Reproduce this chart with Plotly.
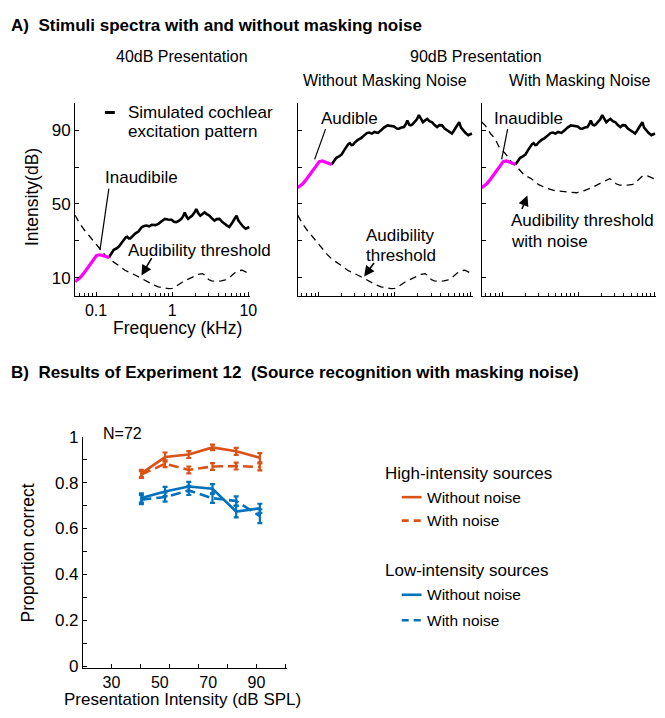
import plotly.graph_objects as go

W, H = 665, 718

# ---------------- Panel A data (frequency in kHz, level in dB) ----------------
# low-frequency portion of the excitation pattern (highlighted)
low_f = [0.053, 0.062, 0.070, 0.078, 0.086, 0.094, 0.102, 0.112, 0.125, 0.138, 0.148]
low_40 = [7.8, 10.0, 12.7, 15.3, 18.0, 20.3, 22.1, 22.4, 21.9, 21.2, 21.0]
low_90 = [58.8, 61.0, 63.7, 66.3, 69.0, 71.3, 73.0, 73.4, 72.8, 72.0, 71.5]

# rest of the simulated cochlear excitation pattern
exc_f = [0.148, 0.160, 0.171, 0.185, 0.20, 0.215, 0.231, 0.245, 0.257, 0.27,
         0.282, 0.30, 0.327, 0.36, 0.40, 0.43, 0.46, 0.50, 0.54, 0.60,
         0.66, 0.72, 0.80, 0.88, 0.98, 1.06, 1.13, 1.22, 1.32, 1.40,
         1.46, 1.55, 1.62, 1.70, 1.82, 1.95, 2.07, 2.2, 2.34, 2.5,
         2.66, 2.85, 3.09, 3.3, 3.59, 3.85, 4.17, 4.5, 4.84, 5.2,
         5.62, 5.9, 6.2, 6.6, 7.0, 7.4, 7.9, 8.5, 9.2, 9.9, 10.3]
exc_40 = [21.0, 23.2, 25.1, 25.8, 26.9, 28.7, 30.4, 31.8, 32.2, 31.3,
          31.3, 32.6, 33.9, 35.0, 37.5, 38.0, 38.3, 37.9, 38.7, 38.5,
          39.2, 40.5, 41.9, 41.6, 41.4, 40.3, 40.1, 40.8, 41.9, 43.5,
          45.4, 43.0, 41.9, 42.6, 43.6, 45.2, 47.2, 45.0, 43.6, 44.6,
          45.4, 44.5, 43.6, 42.3, 41.0, 41.8, 41.9, 40.4, 39.2, 38.4,
          37.5, 38.6, 40.1, 42.0, 43.6, 41.0, 39.2, 37.8, 36.6, 37.2, 37.5]
exc_90 = [71.5, 73.5, 75.1, 75.8, 76.8, 79.0, 81.2, 82.5, 83.0, 82.0,
          82.1, 83.5, 84.8, 85.8, 87.4, 88.5, 88.8, 88.2, 89.1, 88.6,
          90.0, 91.5, 92.7, 92.3, 92.1, 91.0, 90.9, 91.5, 91.8, 93.5,
          95.3, 93.0, 92.7, 93.2, 94.4, 96.0, 98.3, 96.0, 94.4, 95.5,
          96.2, 95.0, 94.4, 93.0, 91.8, 92.8, 92.7, 91.0, 90.0, 89.5,
          88.3, 89.5, 90.9, 92.5, 94.4, 91.5, 90.0, 88.5, 87.4, 88.0, 88.3]

# audibility threshold in quiet
thr_f = [0.053, 0.06, 0.07, 0.08, 0.094, 0.11, 0.13, 0.15, 0.171, 0.2,
         0.24, 0.29, 0.34, 0.4, 0.48, 0.57, 0.66, 0.78, 0.9, 1.0,
         1.15, 1.35, 1.6, 1.9, 2.2, 2.5, 2.75, 3.0, 3.3, 3.8,
         4.4, 5.0, 5.8, 6.6, 7.5, 8.3, 9.2, 10.3]
thr_q = [44.0, 40.0, 36.0, 33.0, 30.0, 26.0, 22.5, 20.0, 18.5, 16.5,
         14.0, 12.5, 11.0, 9.5, 7.5, 6.0, 5.0, 4.3, 4.0, 4.2,
         5.5, 7.5, 9.0, 10.5, 11.8, 12.2, 11.0, 9.0, 8.2, 8.0,
         8.2, 8.8, 10.5, 12.5, 13.8, 14.0, 13.0, 12.2]

# audibility threshold with masking noise
thn_f = [0.053, 0.059, 0.07, 0.079, 0.09, 0.107, 0.13, 0.151, 0.19, 0.24,
         0.3, 0.39, 0.5, 0.65, 0.8, 0.95, 1.2, 1.58, 2.0, 2.6,
         2.9, 3.16, 3.5, 3.9, 4.5, 5.25, 6.0, 7.1, 8.2, 10.0, 10.8]
thn_q = [94.5, 92.7, 88.0, 85.7, 81.0, 77.7, 73.0, 70.7, 66.0, 63.7,
         60.5, 58.4, 57.2, 56.6, 56.2, 56.1, 57.3, 59.3, 61.5, 63.7,
         62.5, 61.0, 60.3, 60.1, 60.2, 60.7, 62.5, 65.4, 65.2, 63.7, 63.5]

freq_ticks = [0.1, 1, 10]
freq_labels = ["0.1", "1", "10"]
freq_minor = [0.06, 0.07, 0.08, 0.09, 0.2, 0.3, 0.4, 0.5, 0.6, 0.7, 0.8, 0.9,
              2, 3, 4, 5, 6, 7, 8, 9]
db_ticks = [10, 50, 90]
db_minor = [30, 70]

# ---------------- Panel B data ----------------
levels = [42.4, 52.2, 62.0, 71.8, 81.6, 91.4]
hi_quiet = [0.840, 0.911, 0.922, 0.953, 0.936, 0.908]
hi_quiet_err = [0.015, 0.020, 0.015, 0.012, 0.015, 0.020]
hi_noise = [0.835, 0.882, 0.855, 0.870, 0.872, 0.868]
hi_noise_err = [0.015, 0.015, 0.015, 0.015, 0.015, 0.015]
lo_quiet = [0.733, 0.761, 0.783, 0.773, 0.674, 0.688]
lo_quiet_err = [0.020, 0.020, 0.020, 0.020, 0.025, 0.020]
lo_noise = [0.726, 0.737, 0.766, 0.732, 0.720, 0.654]
lo_noise_err = [0.020, 0.020, 0.020, 0.020, 0.020, 0.030]

spl_ticks = [30, 50, 70, 90]
pc_ticks = [0, 0.2, 0.4, 0.6, 0.8, 1]
pc_labels = ["0", "0.2", "0.4", "0.6", "0.8", "1"]

ORANGE = "#D95319"
BLUE = "#0072BD"
MAGENTA = "#FF00FF"
FONT = "Liberation Sans, Arial, sans-serif"


def px(x):
    return x / W


def py(y):
    return 1 - y / H


fig = go.Figure()

# ---- Panel A traces ----
panels = [
    ("x", "y", thr_f, thr_q, exc_40, low_40),
    ("x2", "y2", thr_f, thr_q, exc_90, low_90),
    ("x3", "y3", thn_f, thn_q, exc_90, low_90),
]
for xa, ya, tf, tq, ex, lo in panels:
    fig.add_trace(go.Scatter(x=tf, y=tq, xaxis=xa, yaxis=ya, mode="lines",
                             line=dict(color="black", width=1.3, dash="7px,5px"),
                             showlegend=False, hoverinfo="skip"))
    fig.add_trace(go.Scatter(x=exc_f, y=ex, xaxis=xa, yaxis=ya, mode="lines",
                             line=dict(color="black", width=2.6),
                             showlegend=False, hoverinfo="skip"))
    fig.add_trace(go.Scatter(x=low_f, y=lo, xaxis=xa, yaxis=ya, mode="lines",
                             line=dict(color=MAGENTA, width=3.2),
                             showlegend=False, hoverinfo="skip"))

# ---- Panel B traces ----
series_b = [
    (hi_quiet, hi_quiet_err, ORANGE, "solid"),
    (hi_noise, hi_noise_err, ORANGE, "10px,5px"),
    (lo_quiet, lo_quiet_err, BLUE, "solid"),
    (lo_noise, lo_noise_err, BLUE, "10px,5px"),
]
for vals, err, col, dash in series_b:
    fig.add_trace(go.Scatter(x=levels, y=vals, xaxis="x4", yaxis="y4", mode="lines",
                             line=dict(color=col, width=2.6, dash=dash),
                             error_y=dict(type="data", array=err, color=col,
                                          thickness=2.2, width=2.5),
                             showlegend=False, hoverinfo="skip"))

tickfont = dict(family=FONT, size=17, color="black")
xtickfont = dict(family=FONT, size=16, color="black")


def freq_axis(domain, labels):
    return dict(domain=domain, type="log", range=[-1.273, 1.026],
                showline=True, linecolor="black", linewidth=1.3,
                ticks="inside", ticklen=4, tickwidth=1, tickcolor="black",
                tickmode="array", tickvals=freq_ticks, ticktext=freq_labels,
                showticklabels=labels, tickfont=xtickfont,
                minor=dict(tickmode="array", tickvals=freq_minor, ticks="inside",
                           ticklen=3, tickwidth=1, tickcolor="black"),
                showgrid=False, zeroline=False, fixedrange=True)


def db_axis(domain, anchor, labels):
    return dict(domain=domain, anchor=anchor, range=[0, 105],
                showline=True, linecolor="black", linewidth=1.3,
                ticks="inside", ticklen=4, tickwidth=1, tickcolor="black",
                tickmode="array", tickvals=db_ticks,
                showticklabels=labels, tickfont=tickfont,
                minor=dict(tickmode="array", tickvals=db_minor, ticks="inside",
                           ticklen=4, tickwidth=1, tickcolor="black"),
                showgrid=False, zeroline=False, fixedrange=True)


ya_dom = [py(294), py(96)]
fig.update_layout(
    width=W, height=H, margin=dict(l=0, r=0, t=0, b=0),
    paper_bgcolor="white", plot_bgcolor="white",
    font=dict(family=FONT, size=17, color="black"),
    xaxis=dict(freq_axis([px(76), px(253)], True), anchor="y"),
    yaxis=db_axis(ya_dom, "x", True),
    xaxis2=dict(freq_axis([px(301), px(478)], False), anchor="y2"),
    yaxis2=db_axis(ya_dom, "x2", False),
    xaxis3=dict(freq_axis([px(487), px(663)], False), anchor="y3"),
    yaxis3=db_axis(ya_dom, "x3", False),
    xaxis4=dict(domain=[px(84), px(290)], anchor="y4", range=[18.3, 102.6],
                showline=True, linecolor="black", linewidth=1.3,
                ticks="", tickmode="array", tickvals=spl_ticks,
                tickfont=xtickfont,
                minor=dict(tick0=18, dtick=12, ticks="inside", ticklen=4,
                           tickwidth=1, tickcolor="black"),
                showgrid=False, zeroline=False, fixedrange=True),
    yaxis4=dict(domain=[py(675), py(438)], anchor="x4", range=[-0.007, 1.0],
                showline=True, linecolor="black", linewidth=1.3,
                ticks="inside", ticklen=4, tickwidth=1, tickcolor="black",
                tickmode="array", tickvals=pc_ticks, ticktext=pc_labels,
                tickfont=tickfont,
                minor=dict(tick0=0, dtick=0.1, ticks="inside", ticklen=4,
                           tickwidth=1, tickcolor="black"),
                showgrid=False, zeroline=False, fixedrange=True),
)


def text(x, y, s, size=17, anchor="left", bold=False, angle=0):
    fig.add_annotation(x=px(x), y=py(y), xref="paper", yref="paper", text=s,
                       showarrow=False, xanchor=anchor, yanchor="middle",
                       textangle=angle, borderpad=0,
                       font=dict(family=FONT, size=size, color="black",
                                 weight="bold" if bold else "normal"))


def line(x0, y0, x1, y1, width=1.2, color="black", dash="solid"):
    fig.add_shape(type="line", xref="paper", yref="paper",
                  x0=px(x0), y0=py(y0), x1=px(x1), y1=py(y1),
                  line=dict(color=color, width=width, dash=dash))


def arrow(hx, hy, tx, ty):
    fig.add_annotation(x=px(hx), y=py(hy), xref="paper", yref="paper",
                       ax=tx - hx, ay=ty - hy, text="", showarrow=True,
                       arrowhead=2, arrowsize=1.3, arrowwidth=1.6,
                       arrowcolor="black")


# ---- headings ----
text(10, 17, "A)\u00a0 Stimuli spectra with and without masking noise", size=17, bold=True)
text(184, 49, "40dB Presentation", size=16, anchor="center")
text(481, 49, "90dB Presentation", size=16, anchor="center")
text(389, 73, "Without Masking Noise", size=16, anchor="center")
text(586, 73, "With Masking Noise", size=16, anchor="center")

# ---- panel A labels ----
line(106, 106, 116, 106, width=3)
text(128, 106, "Simulated cochlear")
text(128, 125, "excitation pattern")
text(105, 173, "Inaudibile")
line(110, 184, 101, 247)
text(128, 247, "Audibility threshold")
arrow(143, 273, 154, 254)

text(323, 112, "Audible")
line(329, 123, 318, 154)
text(369, 232, "Audibility")
text(369, 252, "threshold")
arrow(368, 274, 379, 259)

text(498, 112, "Inaudible")
line(513, 123, 507, 154)
text(515, 217, "Audibility threshold")
text(515, 238, "with noise")
arrow(533, 191, 527, 206)

text(33, 193, "Intensity(dB)", size=17.5, anchor="center", angle=-90)
text(179, 327, "Frequency (kHz)", size=17.5, anchor="center")

# ---- panel B labels ----
text(10, 372, "B)\u00a0 Results of Experiment 12\u00a0 (Source recognition with masking noise)",
     size=17, bold=True)
text(103, 435, "N=72", size=16)
text(28, 557, "Proportion correct", size=17.5, anchor="center", angle=-90)
text(184, 707, "Presentation Intensity (dB SPL)", size=17, anchor="center")

text(388, 476, "High-intensity sources")
line(406, 500, 426, 500, width=2.6, color=ORANGE)
text(431, 500, "Without noise", size=15.5)
line(406, 524, 426, 524, width=2.6, color=ORANGE, dash="7px,5px")
text(431, 524, "With noise", size=15.5)
text(388, 575, "Low-intensity sources")
line(406, 600, 426, 600, width=2.6, color=BLUE)
text(431, 600, "Without noise", size=15.5)
line(406, 626, 426, 626, width=2.6, color=BLUE, dash="7px,5px")
text(431, 626, "With noise", size=15.5)

fig.write_html("out.html")
